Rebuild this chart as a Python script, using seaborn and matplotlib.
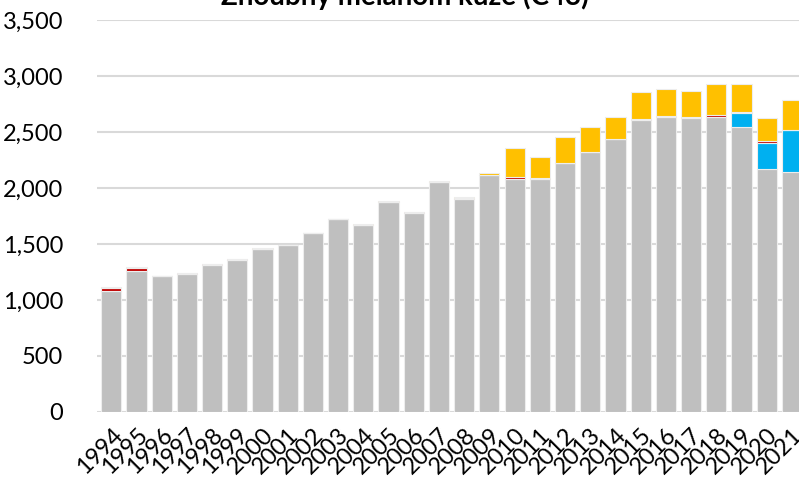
import numpy as np
import pandas as pd
import matplotlib
matplotlib.use("Agg")
import matplotlib.pyplot as plt
import seaborn as sns

sns.set_theme(style="white")
plt.rcParams['font.family'] = ['Lato', 'DejaVu Sans']

# data
roky = [str(r) for r in range(1994, 2022)]
seda = [1080, 1262, 1210, 1235, 1315, 1355, 1455, 1490, 1595, 1723, 1670, 1875, 1774, 2050,
        1905, 2113, 2083, 2080, 2220, 2319, 2438, 2607, 2634, 2625, 2637, 2545, 2167, 2140]
modra = [0] * 25 + [128, 238, 375]
cervena = [28, 25, 2, 4, 3, 8, 3, 2, 0, 0, 2, 3, 8, 4,
           10, 3, 12, 5, 5, 3, 3, 8, 8, 8, 16, 9, 12, 5]
zluta = [5, 5, 5, 3, 4, 3, 3, 2, 2, 2, 8, 7, 8, 10,
         6, 18, 259, 195, 230, 222, 196, 239, 242, 233, 276, 244, 208, 269]

vrstvy = [("seda", seda, "#BFBFBF"), ("modra", modra, "#00B0F0"),
          ("cervena", cervena, "#C00000"), ("zluta", zluta, "#FFC000")]

fig = plt.figure(figsize=(7.99, 4.8), dpi=100)
ax = fig.add_axes([0.121, 0.1417, 0.889, 0.8166])

spodek = np.zeros(len(roky))
for nazev, hodnoty, barva in vrstvy:
    df = pd.DataFrame({"rok": roky, "pocet": hodnoty})
    sns.barplot(data=df, x="rok", y="pocet", color=barva, saturation=1, bottom=spodek, width=0.8,
                edgecolor="#EDEDED", linewidth=0.8, ax=ax, zorder=3)
    spodek = spodek + np.array(hodnoty)

ax.set_ylim(0, 3500)
ax.set_yticks(range(0, 3501, 500))
ax.set_yticklabels([f"{v:,}" for v in range(0, 3501, 500)], fontsize=17, color="black")
ax.set_xlim(-0.58, len(roky) - 0.4)
ax.set_xticks(range(len(roky)))
ax.set_xticklabels(roky, rotation=45, ha="right", rotation_mode="anchor", fontsize=17, color="black")
ax.tick_params(axis="x", length=0, pad=9)
ax.tick_params(axis="y", length=0, pad=24)
ax.yaxis.grid(True, color="#D9D9D9", linewidth=1.5, zorder=0)
ax.set_axisbelow(True)
for s in ax.spines.values():
    s.set_visible(False)
ax.set_xlabel("")
ax.set_ylabel("")

fig.text(0.507, 0.99, "Zhoubný melanom kůže (C43)", ha="center", va="baseline",
         fontsize=20, fontweight="bold", color="black")

fig.savefig("out.png", dpi=100)
